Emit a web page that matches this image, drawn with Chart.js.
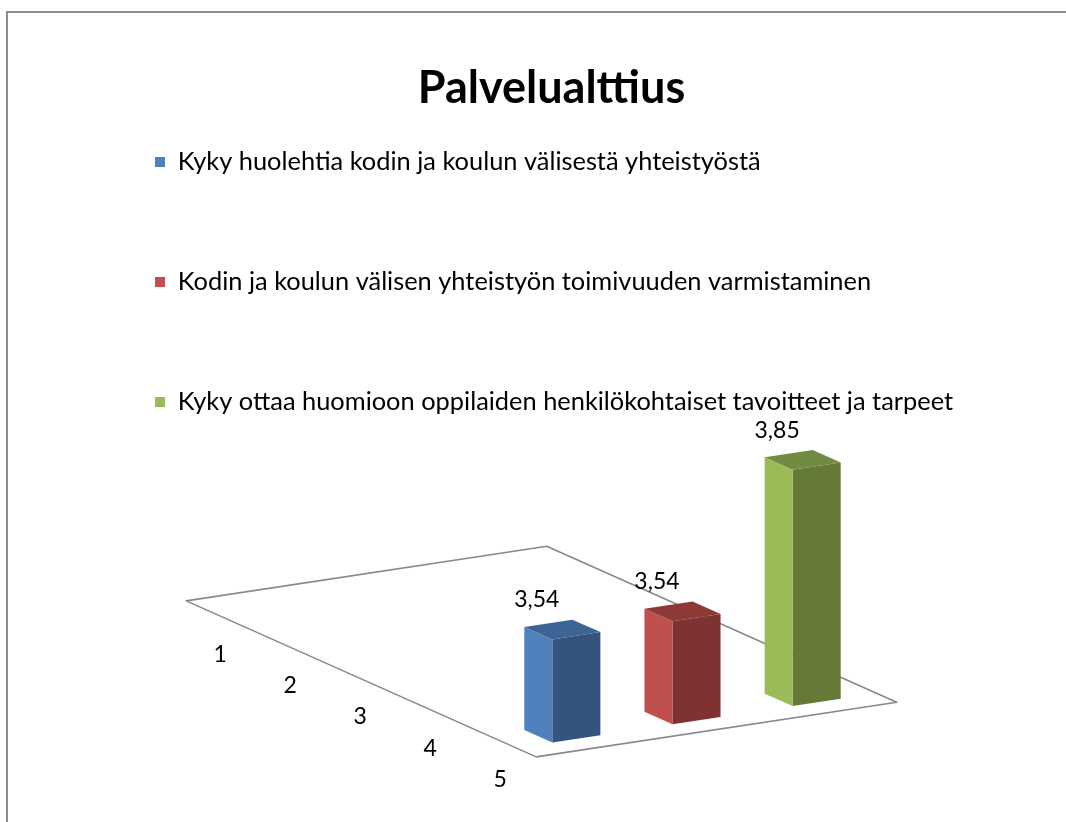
<!DOCTYPE html>
<html><head><meta charset="utf-8">
<script src="https://cdn.jsdelivr.net/npm/chart.js@4"></script>
<style>
html,body{margin:0;padding:0;background:#fff;overflow:hidden;width:1066px;height:822px;}
#frame{position:absolute;left:6px;top:11px;width:1200px;height:1000px;border:2px solid #8c8c8c;box-sizing:border-box;}
#wrap{position:absolute;left:0;top:0;width:1066px;height:822px;}
</style></head><body>
<div id="frame"></div>
<div id="wrap"><canvas id="c" width="1066" height="822"></canvas></div>
<script>
// ---- data ----
const categories = [''];
const seriesNames = [
  'Kyky huolehtia kodin ja koulun välisestä yhteistyöstä',
  'Kodin ja koulun välisen yhteistyön toimivuuden varmistaminen',
  'Kyky ottaa huomioon oppilaiden henkilökohtaiset tavoitteet ja tarpeet'
];
const series1Values = [3.54];
const series2Values = [3.54];
const series3Values = [3.85];
const depthTickLabels = ['1', '2', '3', '4', '5'];
const valueAxisMin = 3.3;
const valueAxisMax = 4.7;
const chartTitle = 'Palvelualttius';

// ---- styles ----
const lightColors = ['#4F81BD', '#C0504D', '#9BBB59'];
const darkColors  = ['#34547E', '#7E3231', '#657A37'];
const topColors   = ['#3C6494', '#8D3936', '#718B42'];
const FONT = 'Lato, "Open Sans", sans-serif';
const LEGEND_FONT = 25.4;
const CAT_PCT = 0.5208;
const BAR_PCT = 0.4;
const SHEAR = -55 / 363;             // floor slope along the category direction
const FLOOR_V = {x: 350, y: 156};    // floor depth direction
const BAR_ROW = 0.943;               // depth position of bar fronts on the floor
const BAR_DEPTH = 0.08;              // bar depth as fraction of floor depth
const DEPTH_LABEL_OFFSET = {x: -1, y: 38};
const VALUE_LABEL_OFFSET = {x: -15.5, y: -39.5};

function geom(chart) {
  const xs = chart.scales.x, area = chart.chartArea;
  const groupW = area.width * CAT_PCT;
  return {x0: xs.getPixelForValue(0) - groupW / 2, y0: area.bottom, groupW};
}
function floorPt(g, a, b) {
  return {
    x: g.x0 + a * g.groupW + (b - BAR_ROW) * FLOOR_V.x,
    y: g.y0 + a * g.groupW * SHEAR + (b - BAR_ROW) * FLOOR_V.y
  };
}
function sh(g, px, py) { return {x: px, y: py + SHEAR * (px - g.x0)}; }
function poly(ctx, pts, fill) {
  ctx.beginPath();
  ctx.moveTo(pts[0].x, pts[0].y);
  for (let i = 1; i < pts.length; i++) ctx.lineTo(pts[i].x, pts[i].y);
  ctx.closePath();
  ctx.fillStyle = fill;
  ctx.fill();
}

const prism3d = {
  id: 'prism3d',
  afterLayout(chart) {
    // let the legend text run across the page (the legend box only reserves the left strip)
    const lg = chart.legend;
    if (lg) { lg.right = chart.width; lg.width = lg.right - lg.left; }
  },
  beforeDatasetsDraw(chart) {
    const ctx = chart.ctx, g = geom(chart);
    const c = [floorPt(g, 0, 0), floorPt(g, 1, 0), floorPt(g, 1, 1), floorPt(g, 0, 1)];
    ctx.save();
    ctx.beginPath();
    ctx.moveTo(c[0].x, c[0].y);
    for (let i = 1; i < 4; i++) ctx.lineTo(c[i].x, c[i].y);
    ctx.closePath();
    ctx.strokeStyle = '#898989';
    ctx.lineWidth = 1.6;
    ctx.lineJoin = 'round';
    ctx.stroke();
    // depth axis tick labels, positioned from a hidden category scale
    const zs = chart.scales.z, area = chart.chartArea;
    ctx.fillStyle = '#000';
    ctx.font = '23px ' + FONT;
    ctx.textAlign = 'center';
    ctx.textBaseline = 'middle';
    depthTickLabels.forEach((lab, i) => {
      const t = (zs.getPixelForValue(i) - area.left) / area.width;
      const p = floorPt(g, 0, t);
      ctx.fillText(lab, p.x + DEPTH_LABEL_OFFSET.x, p.y + DEPTH_LABEL_OFFSET.y);
    });
    ctx.restore();
  },
  beforeDatasetDraw(chart, args) {
    const ctx = chart.ctx, g = geom(chart);
    ctx.save();
    ctx.transform(1, SHEAR, 0, 1, 0, -SHEAR * g.x0);
  },
  afterDatasetDraw(chart, args) {
    const ctx = chart.ctx;
    ctx.restore();
    const g = geom(chart);
    const D = {x: -BAR_DEPTH * FLOOR_V.x, y: -BAR_DEPTH * FLOOR_V.y};
    const i = args.index;
    args.meta.data.forEach((el, j) => {
      const p = el.getProps(['x', 'y', 'base', 'width'], true);
      const l = p.x - p.width / 2, r = p.x + p.width / 2;
      const flt = sh(g, l, p.y), frt = sh(g, r, p.y), flb = sh(g, l, p.base);
      const add = (q) => ({x: q.x + D.x, y: q.y + D.y});
      ctx.save();
      poly(ctx, [flt, flb, add(flb), add(flt)], lightColors[i]);
      poly(ctx, [flt, frt, add(frt), add(flt)], topColors[i]);
      const v = chart.data.datasets[i].data[j];
      ctx.fillStyle = '#000';
      ctx.font = '23px ' + FONT;
      ctx.textAlign = 'center';
      ctx.textBaseline = 'middle';
      ctx.fillText(v.toFixed(2).replace('.', ','), flt.x + VALUE_LABEL_OFFSET.x, flt.y + VALUE_LABEL_OFFSET.y);
      ctx.restore();
    });
  }
};

const valueSeries = [series1Values, series2Values, series3Values];
new Chart(document.getElementById('c'), {
  type: 'bar',
  data: {
    labels: categories,
    datasets: valueSeries.map((vals, i) => ({
      label: seriesNames[i],
      data: vals,
      backgroundColor: darkColors[i],
      borderWidth: 0,
      base: valueAxisMin,
      categoryPercentage: CAT_PCT,
      barPercentage: BAR_PCT,
      clip: false
    }))
  },
  options: {
    responsive: false,
    animation: false,
    devicePixelRatio: 1,
    layout: {padding: {left: 60.4, right: 23.4, top: 54.7, bottom: 74}},
    scales: {
      x: {display: false},
      y: {display: false, min: valueAxisMin, max: valueAxisMax},
      z: {type: 'category', axis: 'x', position: 'bottom', labels: depthTickLabels, display: false}
    },
    plugins: {
      title: {
        display: true,
        text: chartTitle,
        color: '#000',
        font: {family: FONT, size: 45, weight: 'bold', lineHeight: 1.2},
        padding: {top: 6.3, bottom: 31.4}
      },
      legend: {
        display: true,
        position: 'left',
        align: 'start',
        maxWidth: 290,
        labels: {
          color: '#000',
          font: {family: FONT, size: LEGEND_FONT},
          boxWidth: 10,
          boxHeight: 10,
          padding: 120 - LEGEND_FONT,
          generateLabels(chart) {
            const items = Chart.defaults.plugins.legend.labels.generateLabels(chart);
            items.forEach((it, i) => { it.fillStyle = lightColors[i]; it.strokeStyle = lightColors[i]; it.lineWidth = 0; });
            return items;
          }
        }
      },
      tooltip: {enabled: false}
    }
  },
  plugins: [prism3d]
});
</script>
</body></html>
